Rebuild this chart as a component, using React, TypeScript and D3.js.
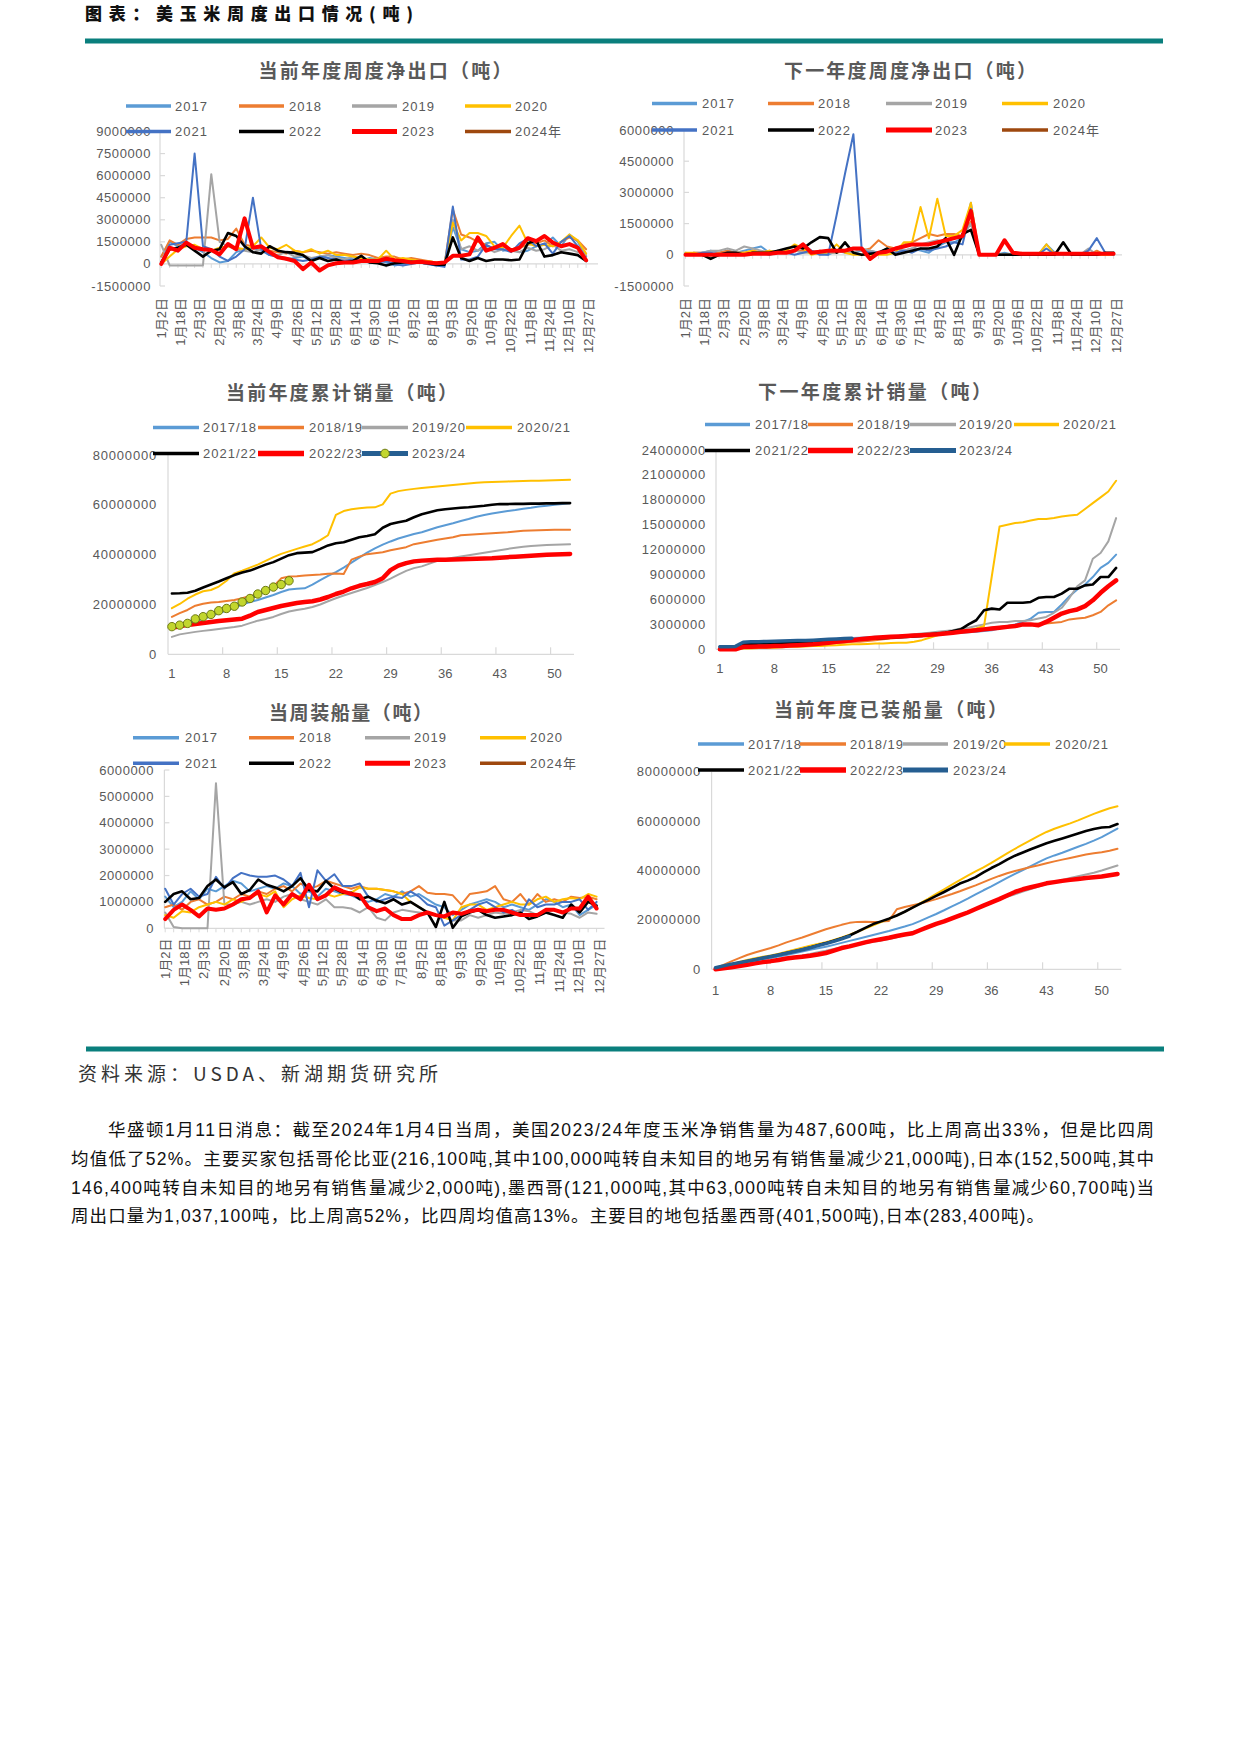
import React from "react";
import * as d3 from "d3";

// ---------------- tick labels / categories ----------------
const DATE_LABELS: [number, number][] = [
  [1, 2], [1, 18], [2, 3], [2, 20], [3, 8], [3, 24], [4, 9], [4, 26], [5, 12], [5, 28], [6, 14], [6, 30],
  [7, 16], [8, 2], [8, 18], [9, 3], [9, 20], [10, 6], [10, 22], [11, 8], [11, 24], [12, 10], [12, 27],
];
const WEEK_LABELS = [1, 8, 15, 22, 29, 36, 43, 50];
const YEAR_NAMES = ["2017", "2018", "2019", "2020", "2021", "2022", "2023", "2024年"];
const MY_NAMES = ["2017/18", "2018/19", "2019/20", "2020/21", "2021/22", "2022/23", "2023/24"];

const C1_TICKS = [-1500000, 0, 1500000, 3000000, 4500000, 6000000, 7500000, 9000000];
const C2_TICKS = [-1500000, 0, 1500000, 3000000, 4500000, 6000000];
const C3_TICKS = [0, 20000000, 40000000, 60000000, 80000000];
const C4_TICKS = [0, 3000000, 6000000, 9000000, 12000000, 15000000, 18000000, 21000000, 24000000];
const C5_TICKS = [0, 1000000, 2000000, 3000000, 4000000, 5000000, 6000000];
const C6_TICKS = [0, 20000000, 40000000, 60000000, 80000000];

// ---------------- chart 1: 当前年度周度净出口 (million t, weekly from 1/2) ----------------
const c1_2017 = [0.5,1.5,1.2,1.4,1.1, 0.8,0.4,0.1,0.2,0.8, 1.0,1.1,0.9,0.6,0.5, 0.3,0.4,0.5,0.3,0.4, 0.6,0.5,0.4,0.3,0.2, 0.4,0.3,0.1,-0.1,0.0, 0.1,0.1,0.0,-0.1,-0.1, 2.5,1.0,0.8,0.9,1.4, 1.5,0.9,1.0,0.8,0.9, 1.2,1.3,1.8,1.2,2.0, 1.5,0.5];
const c1_2018 = [0.5,1.6,1.3,1.7,1.8, 1.8,1.8,1.6,1.7,2.4, 1.3,1.2,1.0,0.9,0.8, 0.7,0.9,0.8,0.9,0.8, 0.7,0.8,0.7,0.6,0.7, 0.6,0.4,0.5,0.5,0.3, 0.4,0.3,0.2,0.1,0.0, 3.7,2.0,1.8,1.5,1.3, 1.0,1.2,1.0,1.1,1.3, 1.4,1.6,1.2,1.5,1.8, 1.6,1.0];
const c1_2019 = [1.3,-0.1,-0.1,-0.1,-0.1, -0.1,6.1,1.5,1.2,1.0, 0.9,0.8,1.0,0.7,0.6, 0.8,0.5,0.6,0.4,0.5, 0.6,0.4,0.3,0.5,0.3, 0.2,0.3,0.4,0.2,0.1, 0.2,0.1,0.0,0.0,0.0, 3.0,1.0,1.2,0.9,1.1, 0.8,1.0,0.9,0.8,1.1, 0.9,1.0,1.3,0.9,1.0, 0.8,0.6];
const c1_2020 = [0.0,0.5,1.0,1.2,1.3, 1.0,0.9,1.1,1.2,1.1, 1.0,1.2,1.8,1.1,1.0, 1.3,0.9,0.8,1.0,0.7, 0.9,0.6,0.6,0.5,0.4, 0.3,0.3,0.9,0.3,0.4, 0.3,0.2,0.2,0.1,0.0, 2.8,1.6,2.1,2.1,1.9, 1.2,1.1,1.9,2.6,1.4, 1.2,1.3,1.2,1.5,2.0, 1.6,0.7];
const c1_2021 = [0.1,1.3,1.4,1.5,7.5, 1.2,1.0,0.5,0.2,0.5, 1.0,4.5,1.0,0.6,0.5, 0.4,0.3,0.2,0.3,0.5, 0.4,0.3,0.2,0.3,0.2, 0.1,0.1,0.2,0.0,-0.1, 0.0,0.1,0.0,-0.1,-0.2, 3.9,0.3,0.3,0.5,1.3, 1.0,1.0,0.8,1.4,1.7, 1.2,1.4,0.7,1.5,1.9, 1.2,0.3];
const c1_2022 = [0.1,1.0,1.1,1.3,0.9, 0.5,0.9,1.0,2.1,1.9, 1.2,0.8,0.7,1.2,0.9, 0.8,0.75,0.6,0.2,0.4, 0.2,0.3,0.1,0.2,0.55, 0.1,0.05,-0.1,0.05,0.1, 0.15,0.1,0.05,-0.05,-0.05, 1.8,0.4,0.2,0.4,0.2, 0.3,0.3,0.25,0.3,1.4, 1.6,0.5,0.6,0.8,0.7, 0.6,0.2];
const c1_2023 = [0.0,1.1,0.9,1.45,1.1, 1.0,0.95,0.65,1.35,1.0, 3.1,1.1,1.2,0.8,0.45, 0.35,0.2,-0.35,0.1,-0.45, -0.1,0.05,0.1,0.1,0.2, 0.2,0.2,0.35,0.25,0.2, 0.1,0.15,0.1,0.05,0.1, 0.55,0.55,0.65,1.8,0.9, 1.1,1.35,0.9,1.1,1.75, 1.55,1.9,1.45,1.2,1.35, 1.1,0.25];
const c1_2024: number[] = [];

// ---------------- chart 2: 下一年度周度净出口 ----------------
const c2_2017 = [0.1,0.0,0.1,0.2,0.1, 0.2,0.1,0.2,0.3,0.4, 0.1,0.2,0.1,0.2,0.5, 0.2,0.1,0.0,0.2,0.1, 0.1,0.2,0.2,0.1,0.3, 0.3,0.2,0.3,0.2,0.1, 0.4,0.6,0.6,0.8,2.5, 0.0,0.0,0.0,0.1,0.0, 0.0,0.0,0.0,0.5,0.1, 0.0,0.0,0.0,0.1,0.0, 0.0,0.0];
const c2_2018 = [0.0,0.1,0.1,0.0,0.1, 0.2,0.1,0.1,0.2,0.1, 0.2,0.1,0.1,0.2,0.2, 0.1,0.2,0.1,0.1,0.2, 0.3,0.2,0.3,0.7,0.4, 0.3,0.5,0.6,0.8,1.0, 0.9,1.0,1.0,0.9,1.6, 0.0,0.0,0.0,0.0,0.0, 0.1,0.0,0.0,0.0,0.1, 0.0,0.0,0.0,0.0,0.2, 0.0,0.1];
const c2_2019 = [0.0,0.1,0.1,0.2,0.2, 0.3,0.2,0.4,0.3,0.2, 0.1,0.2,0.1,0.2,0.1, 0.1,0.2,0.1,0.1,0.2, 0.1,0.3,0.2,0.1,0.2, 0.3,0.2,0.3,0.5,0.6, 0.7,0.6,0.8,0.9,1.5, 0.0,0.0,0.0,0.0,0.0, 0.0,0.0,0.0,0.0,0.0, 0.0,0.0,0.0,0.3,0.0, 0.0,0.0];
const c2_2020 = [0.1,0.1,0.0,0.0,0.0, 0.0,0.1,0.1,0.2,0.1, 0.2,0.1,0.2,0.5,0.3, 0.0,0.1,0.1,0.5,0.1, 0.0,0.0,0.0,0.0,0.0, 0.1,0.6,0.6,2.3,0.8, 2.7,0.9,0.9,1.2,2.5, 0.0,0.0,0.0,0.0,0.0, 0.0,0.0,0.0,0.5,0.0, 0.0,0.0,0.0,0.0,0.0, 0.0,0.0];
const c2_2021 = [0.0,0.0,0.1,0.1,0.0, 0.1,0.1,0.0,0.1,0.1, 0.0,0.1,0.1,0.0,0.1, 0.2,0.0,0.0,1.9,3.9, 5.8,0.2,0.1,0.1,0.2, 0.1,0.2,0.1,0.3,0.2, 0.3,0.4,0.6,0.5,2.2, 0.0,0.0,0.0,0.0,0.0, 0.0,0.0,0.0,0.3,0.0, 0.0,0.0,0.0,0.2,0.8, 0.1,0.0];
const c2_2022 = [0.0,0.0,0.0,-0.2,0.0, 0.1,0.1,0.0,0.1,0.1, 0.1,0.2,0.3,0.4,0.3, 0.6,0.85,0.8,0.1,0.6, 0.1,0.0,0.05,0.1,0.3, 0.0,0.1,0.2,0.3,0.3, 0.4,0.8,0.0,1.0,1.2, 0.0,0.0,0.0,0.0,0.0, 0.0,0.0,0.0,0.0,0.0, 0.6,0.0,0.0,0.0,0.0, 0.1,0.1];
const c2_2023 = [0.0,0.0,0.0,0.0,0.0, 0.0,0.0,0.0,0.05,0.05, 0.05,0.1,0.1,0.2,0.5, 0.1,0.15,0.2,0.2,0.2, 0.3,0.3,-0.2,0.1,0.15, 0.3,0.4,0.5,0.5,0.5, 0.6,0.7,0.8,0.9,2.1, 0.0,0.0,0.0,0.7,0.1, 0.05,0.05,0.05,0.05,0.05, 0.05,0.05,0.05,0.05,0.05, 0.05,0.05];
const c2_2024: number[] = [];

// ---------------- chart 3: 当前年度累计销量 (million t, weeks 1..52) ----------------
const c3_2017 = [10.5,11.2,12.0,13.0,14.2, 15.3,16.5,17.6,18.7,20.0, 21.0,21.8,22.8,23.8,25.0, 26.0,26.3,26.5,28.0,29.8, 31.5,33.0,34.8,36.8,38.8, 40.8,42.5,44.0,45.3,46.5, 47.4,48.3,49.0,50.0,51.0, 51.8,52.6,53.5,54.3,55.2, 55.9,56.5,57.0,57.5,57.9, 58.4,58.8,59.3,59.6,60.0, 60.3,60.7];
const c3_2018 = [15.0,16.5,17.8,19.5,20.3, 20.8,21.0,21.4,21.8,22.5, 23.4,24.0,25.5,27.2,30.5, 31.2,31.3,31.6,31.8,32.0, 32.3,32.4,32.2,38.0,39.2, 40.2,40.6,41.0,41.8,42.4, 43.0,44.2,44.8,45.4,46.0, 46.5,47.0,47.8,48.0,48.2, 48.4,48.6,48.8,49.0,49.3, 49.6,49.7,49.8,49.9,50.0, 50.0,50.0];
const c3_2019 = [7.0,8.0,8.5,9.0,9.4, 9.8,10.2,10.6,11.0,11.5, 12.5,13.5,14.2,15.0,16.2, 17.2,17.8,18.3,19.0,20.0, 21.3,22.5,23.6,24.6,25.6, 26.6,27.8,29.0,30.4,32.0, 33.5,34.6,35.3,36.4,37.5, 38.2,38.8,39.3,39.8,40.3, 40.8,41.3,41.8,42.3,42.8, 43.2,43.5,43.7,43.9,44.0, 44.1,44.2];
const c3_2020 = [18.5,20.2,22.3,24.0,25.3, 25.8,27.2,29.5,32.5,33.6, 34.8,36.0,37.5,39.0,40.3, 41.3,42.3,43.3,44.2,45.8, 47.8,56.0,57.5,58.2,58.6, 58.9,59.0,60.2,64.5,65.5, 66.0,66.4,66.8,67.1,67.4, 67.7,68.0,68.3,68.6,68.9, 69.1,69.2,69.3,69.4,69.5, 69.6,69.7,69.7,69.8,69.9, 70.0,70.1];
const c3_2021 = [24.4,24.5,24.7,25.5,26.8, 28.0,29.2,30.5,31.8,32.8, 33.6,34.8,36.0,37.0,38.4, 39.8,40.6,40.8,41.0,42.3, 43.7,44.6,45.0,46.0,47.0, 47.5,48.2,50.8,52.3,53.0, 53.6,55.0,56.2,57.0,57.8, 58.2,58.5,58.8,59.0,59.3, 59.6,60.0,60.3,60.3,60.4, 60.4,60.5,60.5,60.6,60.6, 60.7,60.7];
const c3_2022 = [10.8,11.2,11.8,12.2,12.6, 13.0,13.4,13.7,14.0,14.3, 15.5,17.0,17.8,18.6,19.4, 20.0,20.6,21.0,21.3,22.0, 23.0,24.2,25.2,26.5,27.5, 28.2,29.0,30.5,33.8,35.6, 36.6,37.3,37.6,37.8,38.0, 38.0,38.1,38.2,38.3,38.4, 38.5,38.6,38.8,39.0,39.2, 39.4,39.6,39.8,40.0,40.1, 40.2,40.3];
const c3_2023 = [11.1,11.7,12.4,14.2,15.1, 16.0,17.5,18.4,19.3,21.0, 22.4,24.2,25.6,27.0,28.0, 29.5];

// ---------------- chart 4: 下一年度累计销量 ----------------
const c4_2017 = [0.0,0.05,0.1,0.5,0.6, 0.7,0.75,0.8,0.85,0.9, 0.95,1.0,1.05,1.1,1.2, 1.25,1.3,1.35,1.4,1.45, 1.5,1.5,1.55,1.6,1.65, 1.7,1.75,1.8,1.85,1.9, 1.95,2.0,2.05,2.1,2.2, 2.3,2.5,2.8,3.0,3.3, 3.7,4.4,4.5,4.5,5.4, 6.4,7.2,7.8,8.7,9.8, 10.4,11.4];
const c4_2018 = [0.0,0.0,0.05,0.2,0.3, 0.3,0.35,0.4,0.45,0.5, 0.55,0.6,0.6,0.65,0.7, 0.75,0.8,0.9,0.9,1.0, 1.1,1.2,1.3,1.4,1.5, 1.6,1.7,1.8,1.9,2.0, 2.1,2.2,2.3,2.4,2.5, 2.6,2.7,2.8,2.9,3.0, 3.0,3.1,3.1,3.2,3.3, 3.6,3.7,3.8,4.1,4.5, 5.3,5.9];
const c4_2019 = [0.0,0.0,0.05,0.1,0.15, 0.2,0.25,0.3,0.35,0.4, 0.45,0.5,0.55,0.6,0.7, 0.8,0.9,1.0,1.1,1.2, 1.3,1.4,1.5,1.6,1.7, 1.8,1.9,2.0,2.1,2.2, 2.3,2.5,2.6,2.8,3.0, 3.2,3.3,3.3,3.4,3.4, 3.5,3.7,3.9,4.4,5.0, 6.2,7.6,8.3,10.9,11.6, 13.0,15.8];
const c4_2020 = [0.0,0.0,0.0,0.1,0.1, 0.15,0.2,0.2,0.25,0.3, 0.3,0.35,0.4,0.4,0.45, 0.5,0.55,0.6,0.6,0.65, 0.7,0.7,0.75,0.8,0.8, 0.9,1.1,1.4,1.7,1.9, 2.0,2.2,2.3,2.5,2.8, 8.8,14.8,15.0,15.2,15.3, 15.5,15.7,15.7,15.8,16.0, 16.1,16.2,16.9,17.6,18.3, 19.0,20.3];
const c4_2021 = [0.3,0.3,0.3,0.6,0.6, 0.7,0.7,0.7,0.75,0.8, 0.8,0.85,0.9,0.9,0.95, 1.0,1.1,1.2,1.2,1.25, 1.3,1.35,1.4,1.45,1.5, 1.55,1.6,1.8,1.9,2.0, 2.2,2.4,3.0,3.5,4.7, 4.9,4.8,5.6,5.6,5.6, 5.7,6.2,6.3,6.3,6.7, 7.3,7.3,7.7,7.8,8.7, 8.7,9.8];
const c4_2022 = [0.0,0.0,0.0,0.3,0.3, 0.35,0.35,0.4,0.4,0.45, 0.5,0.55,0.6,0.7,0.8, 0.9,1.0,1.1,1.2,1.3, 1.4,1.45,1.5,1.55,1.6, 1.65,1.7,1.75,1.8,1.9, 2.0,2.1,2.2,2.3,2.4, 2.5,2.6,2.7,2.8,3.0, 3.0,2.9,3.3,3.8,4.3, 4.6,4.8,5.2,5.9,6.8, 7.6,8.3];
const c4_2023 = [0.3,0.3,0.35,0.85,0.9, 0.92,0.95,0.97,1.0,1.02, 1.05,1.07,1.1,1.15,1.2, 1.25,1.3,1.33];

// ---------------- chart 5: 当周装船量 ----------------
const c5_2017 = [1.2,0.8,1.0,1.4,1.1, 1.5,1.4,1.6,1.8,1.7, 1.4,1.5,1.6,1.5,1.7, 1.6,1.3,1.4,1.2,1.5, 1.4,1.3,1.25,1.1,1.0, 1.1,1.3,1.2,1.4,1.2, 1.3,1.1,0.9,0.8,0.5, 0.7,0.9,1.0,1.1,1.0, 0.8,0.9,0.8,0.7,0.9, 1.1,1.0,0.8,0.9,0.5, 0.7,0.9];
const c5_2018 = [0.8,0.9,0.7,1.0,1.1, 0.9,1.0,1.2,1.1,1.3, 1.2,1.4,1.3,1.5,1.6, 1.4,1.7,1.5,1.6,1.8, 1.7,1.6,1.5,1.6,1.5, 1.5,1.45,1.4,1.3,1.4, 1.6,1.35,1.3,1.3,1.25, 0.9,1.3,1.35,1.4,1.6, 1.1,1.0,1.3,0.9,1.3, 1.0,1.1,1.0,1.2,1.15, 1.2,1.1];
const c5_2019 = [0.6,0.05,0.0,0.0,0.0, 0.0,5.5,0.9,0.9,1.0, 0.9,1.0,1.1,1.0,1.2, 1.3,1.1,1.0,0.9,1.1, 0.8,0.8,0.75,0.6,0.8, 0.4,0.3,0.6,0.7,0.65, 0.6,0.55,0.5,0.45,0.3, 0.3,0.5,0.4,0.5,0.6, 0.55,0.6,0.7,0.65,0.5, 0.6,0.7,0.6,0.55,0.4, 0.6,0.55];
const c5_2020 = [0.5,0.4,0.65,0.6,0.8, 0.9,1.0,0.9,1.1,1.0, 1.2,1.3,1.2,1.4,0.8, 1.1,1.25,1.15,1.1,1.3, 1.2,1.3,1.35,1.55,1.5, 1.5,1.45,1.4,1.3,1.0, 0.8,0.6,0.5,0.4,0.3, 0.8,0.9,0.9,0.7,0.8, 0.9,1.0,0.9,0.9,1.1, 1.2,1.0,1.1,1.15,1.1, 1.3,1.2];
const c5_2021 = [1.5,0.9,1.3,1.5,1.2, 1.3,1.95,1.5,1.9,2.1, 2.0,1.95,1.95,2.0,1.85, 1.6,2.1,0.8,2.2,1.8, 2.05,1.6,1.6,1.7,1.2, 1.0,1.1,1.2,1.15,1.4, 1.2,0.9,0.8,0.1,0.3, 0.5,0.7,0.9,1.0,0.8, 0.6,0.7,0.5,1.1,0.8, 0.9,0.9,1.0,1.0,1.1, 0.7,1.0];
const c5_2022 = [1.0,1.3,1.4,1.1,1.15, 1.6,1.85,1.55,1.75,1.3, 1.45,1.85,1.65,1.55,1.4, 1.6,1.9,1.45,1.4,1.8, 1.5,1.35,1.35,1.1,1.2, 1.05,0.95,1.1,0.9,1.0, 0.8,0.6,0.05,1.0,0.02, 0.45,0.6,0.7,0.5,0.4, 0.45,0.5,0.6,0.35,0.45, 0.6,0.5,0.4,0.9,0.6, 1.0,0.85];
const c5_2023 = [0.35,0.7,0.9,0.7,0.45, 0.75,0.7,0.75,0.9,1.1, 1.15,1.4,0.6,1.25,0.9, 1.3,1.1,1.65,1.1,1.25, 1.55,1.4,1.3,1.25,0.8, 0.65,0.75,0.5,0.35,0.35, 0.5,0.6,0.5,0.45,0.6, 0.55,0.65,0.7,0.65,0.7, 0.7,0.6,0.5,0.5,0.5, 0.7,0.7,0.6,0.75,0.75, 1.2,0.75];
const c5_2024: number[] = [];

// ---------------- chart 6: 当前年度已装船量 ----------------
const c6_2017 = [0.5,1.1,1.8,2.4,3.0, 3.6,4.1,4.6,5.2,5.8, 6.5,7.2,7.9,8.5,9.1, 9.9,10.7,11.5,12.3,13.1, 13.9,14.7,15.5,16.4,17.3, 18.3,19.6,21.0,22.4,23.9, 25.5,27.0,28.6,30.3,32.0, 33.6,35.3,37.0,38.6,40.2, 41.8,43.4,44.9,46.1,47.2, 48.4,49.6,50.8,52.1,53.5, 55.2,57.0];
const c6_2018 = [0.5,1.8,3.2,4.5,5.8, 6.8,7.7,8.6,9.7,10.9, 11.9,12.9,14.0,15.1,16.2, 17.1,18.0,18.8,19.2,19.3, 19.2,19.3,19.6,24.3,25.2, 25.9,26.6,27.5,28.4,29.5, 30.5,31.6,32.8,34.0,35.3, 36.6,37.8,38.9,39.8,40.6, 41.4,42.1,42.9,43.7,44.4, 45.1,45.8,46.5,47.0,47.4, 48.0,48.8];
const c6_2019 = [0.3,0.8,1.3,1.8,2.2, 2.7,3.1,3.5,4.0,4.5, 5.0,5.6,6.2,6.9,7.5, 8.2,8.9,9.5,10.0,10.6, 11.1,11.6,12.3,13.0,14.0, 15.0,16.0,17.0,18.1,19.3, 20.6,21.9,23.1,24.4,25.7, 27.0,28.2,29.3,30.4,31.5, 32.5,33.5,34.5,35.3,36.2, 37.0,37.7,38.4,39.1,40.0, 41.0,42.0];
const c6_2020 = [0.5,1.3,2.1,3.0,3.8, 4.5,5.1,5.6,6.3,7.1, 7.9,8.7,9.5,10.3,11.0, 11.9,12.9,14.0,15.2,16.5, 17.8,19.1,20.4,21.8,23.3, 25.0,26.8,28.6,30.5,32.4, 34.3,36.1,37.9,39.6,41.3, 43.1,45.0,46.9,48.8,50.6, 52.3,54.0,55.6,56.9,58.0, 59.1,60.3,61.6,62.9,64.1, 65.2,66.0];
const c6_2021 = [0.5,1.2,1.9,2.6,3.3, 4.0,4.6,5.2,5.9,6.6, 7.3,8.0,8.8,9.7,10.6, 11.6,12.6,13.7,15.2,16.8, 18.3,19.4,20.5,21.8,23.3, 25.0,26.6,28.1,29.7,31.3, 33.0,34.7,35.9,37.3,39.2, 41.0,42.6,44.4,46.0,47.3, 48.6,49.8,51.0,52.0,53.0, 54.0,55.0,56.0,56.8,57.4, 57.6,58.8];
const c6_2022 = [0.0,0.4,0.8,1.3,1.8, 2.4,2.9,3.3,3.8,4.4, 4.8,5.1,5.5,6.0,6.6, 7.6,8.6,9.3,10.1,10.9, 11.6,12.2,12.8,13.5,14.1, 14.6,15.9,17.2,18.4,19.4, 20.6,21.8,23.0,24.4,25.8, 27.1,28.4,29.9,31.3,32.4, 33.2,34.0,34.8,35.3,35.8, 36.2,36.6,37.0,37.3,37.6, 38.1,38.6];
const c6_2023 = [0.6,1.4,2.1,2.7,3.3, 3.9,4.6,5.2,5.8,6.5, 7.2,7.9,8.7,9.6,10.4, 11.3,12.3,13.4];

// ---------------- styles ----------------
const COL = ["#5B9BD5", "#ED7D31", "#A5A5A5", "#FFC000", "#4472C4", "#000000", "#FF0000", "#9E480E"];
const COL_MY = ["#5B9BD5", "#ED7D31", "#A5A5A5", "#FFC000", "#000000", "#FF0000", "#255E91"];
const FONT = "'Liberation Sans', Arial, 'Noto Sans CJK SC', sans-serif";
const CJK = "'Noto Sans CJK SC', 'Noto Sans CJK JP', sans-serif";
const TXT = "#595959";
const AXIS = "#D9D9D9";

type Ser = { name: string; color: string; lw: number; llw: number; values: number[]; marker?: boolean };

const yearSeries = (vals: number[][]): Ser[] =>
  YEAR_NAMES.map((n, i) => ({
    name: n,
    color: COL[i],
    lw: i === 6 ? 4 : i === 5 ? 2.6 : 2,
    llw: i === 6 ? 5 : 3.5,
    values: vals[i],
  }));
const mySeries = (vals: number[][], marker: boolean): Ser[] =>
  MY_NAMES.map((n, i) => ({
    name: n,
    color: COL_MY[i],
    lw: i === 5 ? 4.5 : i === 6 ? 3.5 : i === 4 ? 2.6 : 2,
    llw: i === 5 ? 5.5 : i === 6 ? 5 : 3.5,
    values: vals[i],
    marker: marker && i === 6,
  }));

function Title({ x, y, len, text }: { x: number; y: number; len: number; text: string }) {
  return (
    <text x={x} y={y} textAnchor="middle" dominantBaseline="central" fontFamily={CJK} fontWeight={700}
      fontSize={19} fill={TXT} textLength={len} lengthAdjust="spacing">{text}</text>
  );
}

function Legend({ series, rows, cols }: { series: Ser[]; rows: number[]; cols: number[][] }) {
  return (
    <g>
      {series.map((s, i) => {
        const r = Math.floor(i / 4), c = i % 4;
        const [x1, x2, tx] = cols[c];
        const y = rows[r];
        return (
          <g key={s.name}>
            <line x1={x1} x2={x2} y1={y} y2={y} stroke={s.color} strokeWidth={s.llw} />
            {s.marker && <circle cx={(x1 + x2) / 2} cy={y} r={4.3} fill="#C2D62E" stroke="#6E7A12" strokeWidth={1} />}
            <text x={tx} y={y} dominantBaseline="central" fontFamily={FONT} fontSize={13} fill={TXT}
              style={{ letterSpacing: "1px" }}>{s.name}</text>
          </g>
        );
      })}
    </g>
  );
}

type DateProps = {
  title: string; titleX: number; titleY: number; titleLen: number;
  rows: number[]; cols: number[][]; series: Ser[];
  yDomain: [number, number]; yRange: [number, number]; ticks: number[];
  axisX: number; axisEnd: number; xStart: number; xEnd: number; labelTop: number; yLabelRight: number;
};

function DateChart(p: DateProps) {
  const start = new Date(2023, 0, 2);
  const x = d3.scaleTime().domain([start, new Date(2023, 11, 27)]).range([p.xStart, p.xEnd]);
  const y = d3.scaleLinear().domain(p.yDomain).range(p.yRange);
  const dates = d3.range(52).map((i) => d3.timeDay.offset(start, 7 * i));
  const line = d3.line<number>().x((_, i) => x(dates[i])).y((v) => y(v));
  const y0 = y(0);
  return (
    <g>
      <Title x={p.titleX} y={p.titleY} len={p.titleLen} text={p.title} />
      <line x1={p.axisX} x2={p.axisX} y1={y(p.yDomain[1])} y2={y(p.yDomain[0])} stroke={AXIS} strokeWidth={1.2} />
      {p.ticks.map((t) => (
        <g key={t}>
          <line x1={p.axisX} x2={p.axisX + 5} y1={y(t / 1e6)} y2={y(t / 1e6)} stroke={AXIS} strokeWidth={1.2} />
          <text x={p.yLabelRight} y={y(t / 1e6)} textAnchor="end" dominantBaseline="central" fontFamily={FONT}
            fontSize={13} fill={TXT} style={{ letterSpacing: "0.6px" }}>{String(t)}</text>
        </g>
      ))}
      <line x1={p.axisX} x2={p.axisEnd} y1={y0} y2={y0} stroke={AXIS} strokeWidth={1.2} />
      {dates.map((d, i) => (
        <line key={i} x1={x(d)} x2={x(d)} y1={y0} y2={y0 + 4} stroke={AXIS} strokeWidth={1} />
      ))}
      {DATE_LABELS.map(([m, d]) => (
        <text key={`${m}-${d}`} transform={`translate(${x(new Date(2023, m - 1, d))},${p.labelTop}) rotate(-90)`}
          textAnchor="end" dy="0.35em" fontFamily={FONT} fontSize={13} fill={TXT}>{`${m}月${d}日`}</text>
      ))}
      <Legend series={p.series} rows={p.rows} cols={p.cols} />
      {p.series.map((s) =>
        s.values.length ? (
          <path key={s.name} d={line(s.values) || ""} fill="none" stroke={s.color} strokeWidth={s.lw}
            strokeLinejoin="round" strokeLinecap="round" />
        ) : null
      )}
    </g>
  );
}

type WeekProps = {
  title: string; titleX: number; titleY: number; titleLen: number;
  rows: number[]; cols: number[][]; series: Ser[];
  yDomain: [number, number]; yRange: [number, number]; ticks: number[];
  axisX: number; axisEnd: number; labelY: number; yLabelRight: number;
};

function WeekChart(p: WeekProps) {
  const x = d3.scaleLinear().domain([0.5, 52.5]).range([p.axisX, p.axisEnd]);
  const y = d3.scaleLinear().domain(p.yDomain).range(p.yRange);
  const line = d3.line<number>().x((_, i) => x(i + 1)).y((v) => y(v));
  const y0 = y(0);
  const tickWeeks = d3.range(7.5, 52, 7);
  return (
    <g>
      <Title x={p.titleX} y={p.titleY} len={p.titleLen} text={p.title} />
      <line x1={p.axisX} x2={p.axisX} y1={y(p.yDomain[1])} y2={y0} stroke={AXIS} strokeWidth={1.2} />
      {p.ticks.map((t) => (
        <text key={t} x={p.yLabelRight} y={y(t / 1e6)} textAnchor="end" dominantBaseline="central" fontFamily={FONT}
          fontSize={13} fill={TXT} style={{ letterSpacing: "0.8px" }}>{String(t)}</text>
      ))}
      <line x1={p.axisX} x2={p.axisEnd} y1={y0} y2={y0} stroke={AXIS} strokeWidth={1.2} />
      {tickWeeks.map((w) => (
        <line key={w} x1={x(w)} x2={x(w)} y1={y0} y2={y0 - 7} stroke={AXIS} strokeWidth={1.2} />
      ))}
      {WEEK_LABELS.map((w) => (
        <text key={w} x={x(w)} y={p.labelY} textAnchor="middle" dominantBaseline="central" fontFamily={FONT}
          fontSize={13} fill={TXT}>{String(w)}</text>
      ))}
      <Legend series={p.series} rows={p.rows} cols={p.cols} />
      {p.series.map((s) => (
        <path key={s.name} d={line(s.values) || ""} fill="none" stroke={s.color} strokeWidth={s.lw}
          strokeLinejoin="round" strokeLinecap="round" />
      ))}
      {p.series.filter((s) => s.marker).map((s) =>
        s.values.map((v, i) => (
          <circle key={`${s.name}-${i}`} cx={x(i + 1)} cy={y(v)} r={4.2} fill="#C2D62E" stroke="#6E7A12" strokeWidth={1} />
        ))
      )}
    </g>
  );
}

const PARA = [
  "华盛顿1月11日消息：截至2024年1月4日当周，美国2023/24年度玉米净销售量为487,600吨，比上周高出33%，但是比四周",
  "均值低了52%。主要买家包括哥伦比亚(216,100吨,其中100,000吨转自未知目的地另有销售量减少21,000吨),日本(152,500吨,其中",
  "146,400吨转自未知目的地另有销售量减少2,000吨),墨西哥(121,000吨,其中63,000吨转自未知目的地另有销售量减少60,700吨)当",
  "周出口量为1,037,100吨，比上周高52%，比四周均值高13%。主要目的地包括墨西哥(401,500吨),日本(283,400吨)。",
];

export default function App() {
  const s1 = yearSeries([c1_2017, c1_2018, c1_2019, c1_2020, c1_2021, c1_2022, c1_2023, c1_2024]);
  const s2 = yearSeries([c2_2017, c2_2018, c2_2019, c2_2020, c2_2021, c2_2022, c2_2023, c2_2024]);
  const s5 = yearSeries([c5_2017, c5_2018, c5_2019, c5_2020, c5_2021, c5_2022, c5_2023, c5_2024]);
  const s3 = mySeries([c3_2017, c3_2018, c3_2019, c3_2020, c3_2021, c3_2022, c3_2023], true);
  const s4 = mySeries([c4_2017, c4_2018, c4_2019, c4_2020, c4_2021, c4_2022, c4_2023], false);
  const s6 = mySeries([c6_2017, c6_2018, c6_2019, c6_2020, c6_2021, c6_2022, c6_2023], false);

  const paraX = [108, 71, 71, 71];
  const paraLen = [1046, 1083, 1083, 973];
  const paraY = [1130, 1159, 1188, 1216];

  return (
    <div style={{ position: "absolute", left: 0, top: 0, width: 1240, height: 1754, background: "#fff" }}>
      <svg width={1240} height={1754} viewBox="0 0 1240 1754" xmlns="http://www.w3.org/2000/svg">
        <rect x={0} y={0} width={1240} height={1754} fill="#fff" />
        <text x={85} y={20} fontFamily={CJK} fontWeight={900} fontSize={17} fill="#111"
          textLength={328} lengthAdjust="spacing">图表：美玉米周度出口情况(吨)</text>
        <rect x={85} y={38.5} width={1078} height={5} fill="#0A7F7D" />

        <DateChart title="当前年度周度净出口（吨）" titleX={385} titleY={69.5} titleLen={253}
          rows={[106, 131.5]} cols={[[126, 171, 175], [239, 284, 289], [352, 397, 402], [465, 511, 515]]}
          series={s1} yDomain={[-1.5, 9]} yRange={[286, 131.5]} ticks={C1_TICKS}
          axisX={160} axisEnd={598} xStart={161.3} xEnd={588.5} labelTop={298} yLabelRight={151} />

        <DateChart title="下一年度周度净出口（吨）" titleX={910} titleY={69} titleLen={252}
          rows={[103.5, 130]} cols={[[652, 697, 702], [768, 814, 818], [886, 932, 935], [1002, 1048, 1053]]}
          series={s2} yDomain={[-1.5, 6]} yRange={[286, 130]} ticks={C2_TICKS}
          axisX={684} axisEnd={1122} xStart={685.5} xEnd={1116} labelTop={298} yLabelRight={674} />

        <WeekChart title="当前年度累计销量（吨）" titleX={341.5} titleY={391.5} titleLen={231}
          rows={[427.5, 453.5]} cols={[[153, 199, 203], [258, 304, 309], [362, 408, 412], [466, 512, 517]]}
          series={s3} yDomain={[0, 80]} yRange={[654.3, 455]} ticks={C3_TICKS}
          axisX={168} axisEnd={574} labelY={673.5} yLabelRight={157} />

        <WeekChart title="下一年度累计销量（吨）" titleX={874.5} titleY={390} titleLen={233}
          rows={[424.5, 450.5]} cols={[[705, 750, 755], [808, 853, 857], [910, 956, 959], [1014, 1059, 1063]]}
          series={s4} yDomain={[0, 24]} yRange={[649.3, 450]} ticks={C4_TICKS}
          axisX={716} axisEnd={1120} labelY={668} yLabelRight={706} />

        <DateChart title="当周装船量（吨）" titleX={350.5} titleY={711} titleLen={163}
          rows={[737.7, 763.3]} cols={[[133, 179, 185], [249, 294, 299], [365, 410, 414], [480, 526, 530]]}
          series={s5} yDomain={[0, 6]} yRange={[928.3, 770]} ticks={C5_TICKS}
          axisX={164.4} axisEnd={604.5} xStart={165.2} xEnd={599} labelTop={938.5} yLabelRight={154} />

        <WeekChart title="当前年度已装船量（吨）" titleX={890.5} titleY={708} titleLen={233}
          rows={[744, 770]} cols={[[698, 744, 748], [800, 846, 850], [903, 948, 953], [1004, 1050, 1055]]}
          series={s6} yDomain={[0, 80]} yRange={[969.3, 771.7]} ticks={C6_TICKS}
          axisX={711.6} axisEnd={1121.4} labelY={990} yLabelRight={701} />

        <rect x={86} y={1046.5} width={1078} height={5} fill="#0A7F7D" />
        <text x={78} y={1072.5} dominantBaseline="central" fontFamily={CJK} fontSize={19} fill="#333"
          textLength={360} lengthAdjust="spacing">资料来源：USDA、新湖期货研究所</text>

        {PARA.map((t, i) => (
          <text key={i} x={paraX[i]} y={paraY[i]} dominantBaseline="central" fontFamily={FONT} fontSize={17.5}
            fill="#111" textLength={paraLen[i]} lengthAdjust="spacing">{t}</text>
        ))}
      </svg>
    </div>
  );
}
